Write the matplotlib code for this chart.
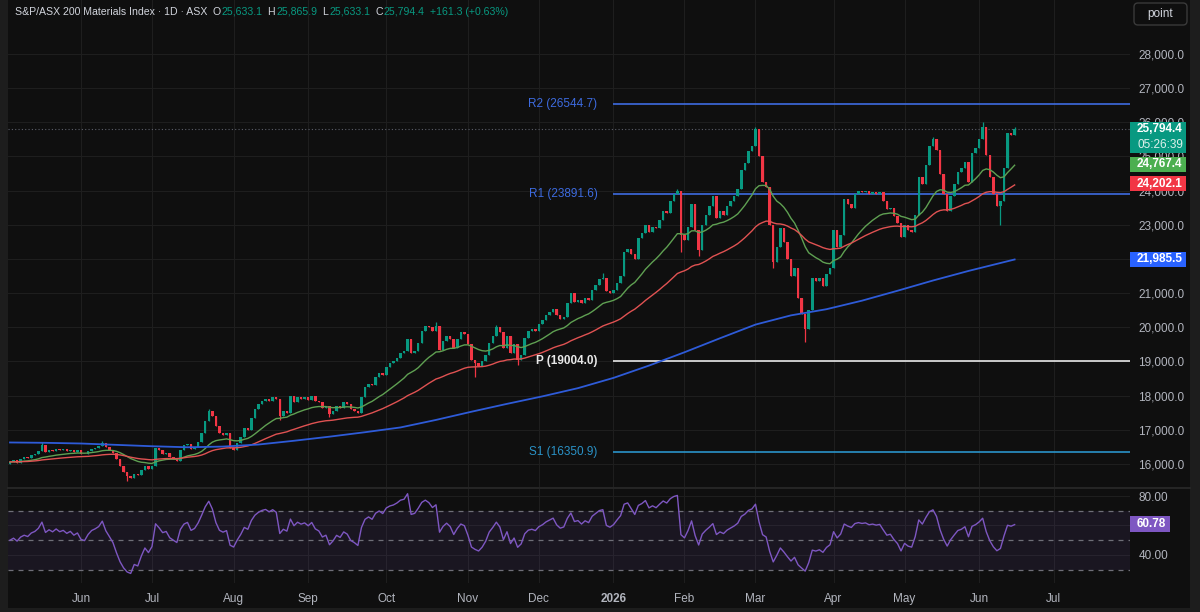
import numpy as np
import pandas as pd
import matplotlib
matplotlib.use('Agg')
import matplotlib.pyplot as plt
import matplotlib.transforms as mtransforms
from matplotlib.patches import Rectangle, FancyBboxPatch

# ---- data (daily closes, S&P/ASX 200 Materials)
closes = [
    16060, 16120, 16040, 16150, 16200, 16170, 16260, 16300, 16380, 16550,
    16350, 16420, 16380, 16450, 16400, 16430, 16380, 16420, 16360, 16400,
    16300, 16280, 16380, 16450, 16480, 16520, 16620, 16500, 16420, 16330,
    16150, 15950, 15780, 15650, 15600, 15720, 15680, 15820, 15950, 15850,
    15950, 16480, 16400, 16300, 16330, 16200, 16150, 16100, 16400, 16550,
    16600, 16450, 16500, 16650, 16900, 17250, 17550, 17400, 17100, 16900,
    16850, 16900, 16480, 16420, 16620, 16800, 17050, 17000, 17350, 17600,
    17750, 17850, 17900, 17850, 17950, 17900, 17400, 17550, 17500, 17980,
    17800, 17950, 17900, 17950, 17880, 18000, 17850, 17800, 17650, 17700,
    17450, 17550, 17700, 17650, 17800, 17750, 17600, 17550, 17480, 17950,
    18250, 18350, 18300, 18550, 18650, 18600, 18850, 18950, 19000, 19100,
    19250, 19300, 19650, 19250, 19300, 19550, 19900, 20050, 20000, 19900,
    20050, 19350, 19600, 19750, 19650, 19400, 19650, 19850, 19800, 19500,
    19050, 18950, 18880, 19000, 19200, 19550, 19750, 20000, 19850, 19400,
    19750, 19250, 19500, 19050, 19200, 19700, 19900, 19950, 19900, 20100,
    20200, 20350, 20450, 20550, 20350, 20250, 20300, 20700, 21000, 20750,
    20800, 20700, 20850, 20800, 21100, 21250, 21400, 21450, 21050, 21000,
    21100, 21300, 21500, 22200, 22300, 22150, 22000, 22600, 22750, 23000,
    22800, 22950, 22900, 23150, 23400, 23350, 23700, 23900, 24000, 22700,
    22550, 22950, 23600, 22850, 22250, 23000, 23300, 23550, 23850, 23200,
    23400, 23300, 23550, 23700, 23850, 24050, 24600, 24800, 25150, 25300,
    25800, 25000, 24250, 24100, 23000, 21900, 22350, 22900, 22500, 22000,
    21500, 21750, 20850, 20400, 19950, 20500, 21450, 21350, 21450, 21200,
    21550, 21750, 22850, 22350, 22700, 23750, 23600, 23500, 23900, 24000,
    23950, 24000, 23900, 23950, 23900, 23950, 23700, 23450, 23500, 23250,
    23050, 22650, 23000, 22850, 22800, 23300, 24400, 24200, 24750, 25300,
    25500, 25200, 24500, 23900, 23400, 23850, 24200, 24550, 24650, 24850,
    24250, 25100, 25250, 25500, 25850, 25050, 24400, 23900, 23550, 23700,
    24650, 25700, 25633.1, 25794.4,
]
first_open = 16000
# long wicks that stand out on the chart (bar index -> price)
highs_read = {9: 16650, 26: 16660, 56: 17620, 120: 20170, 137: 20060, 167: 21600,
              188: 24060, 210: 25850, 260: 25560, 274: 26000, 283: 25865.9}
lows_read = {33: 15490, 76: 17300, 90: 17380, 131: 18550, 143: 18900, 189: 22200,
             194: 22100, 215: 21750, 224: 19580, 279: 23000}

# 200-day average, read every 10 bars
ma200_idx = list(range(0, 280, 10)) + [283]
ma200_val = [16630, 16620, 16600, 16560, 16520, 16490, 16510, 16570, 16680, 16800,
             16930, 17070, 17290, 17530, 17760, 17980, 18220, 18520, 18880, 19270,
             19680, 20080, 20350, 20530, 20780, 21070, 21370, 21650, 21985.5]

pivot_names = ['R2', 'R1', 'P', 'S1']
pivot_vals = [26544.7, 23891.6, 19004.0, 16350.9]
pivot_cols = ['#3d6be0', '#3d6be0', '#e8e8e8', '#2a93c8']

holidays = ['2025-06-09', '2025-12-25', '2025-12-26', '2026-01-01', '2026-01-26',
            '2026-04-03', '2026-04-06', '2026-06-08']
price_ticks = np.arange(16000, 28001, 1000)
hidden_ticks = [22000]   # sits right under the 200-day label
last_o, last_h, last_l, last_c = 25633.1, 25865.9, 25633.1, 25794.4
ema_fast_last, ema_slow_last, rsi_last = 24767.4, 24202.1, 60.78
countdown = '05:26:39'

# ---- trading calendar
days = pd.bdate_range('2025-05-05', '2026-07-31')
days = days[~days.isin(pd.to_datetime(holidays))]
n = len(closes)
idx = np.arange(n)

month_pos, month_lab = [], []
for i in range(1, len(days)):
    if days[i].month != days[i - 1].month:
        month_pos.append(i)
        month_lab.append('2026' if days[i].month == 1 else days[i].strftime('%b'))

c = np.array(closes, dtype=float)
o = np.concatenate([[first_open], c[:-1]])
hi = np.maximum(o, c)
lo = np.minimum(o, c)
for k, v in highs_read.items():
    hi[k] = v
for k, v in lows_read.items():
    lo[k] = v

s = pd.Series(c)
ema20 = s.ewm(span=20, adjust=False).mean()
ema50 = s.ewm(span=50, adjust=False).mean()

# Wilder RSI(14), started from a neutral state so the first bars are not extreme
d = np.diff(c)
g = l = 80.0
rsi = [50.0]
for dd in d:
    g = (g * 13 + max(dd, 0)) / 14
    l = (l * 13 + max(-dd, 0)) / 14
    rsi.append(100 - 100 / (1 + g / l))
rsi = np.array(rsi)

# ---- figure
BG = '#0f0f0f'
GRID = '#1e1e1e'
TXT = '#b2b5be'
UP = '#089981'
DN = '#f23645'

W, H = 1200, 612
fig = plt.figure(figsize=(12, 6.12), dpi=100, facecolor='#1d1d1d')
fig.patches.append(Rectangle((8 / W, 4 / H), 1182 / W, 608 / H, transform=fig.transFigure,
                             facecolor=BG, edgecolor='none', zorder=-10))

ax = fig.add_axes([8 / W, (H - 487) / H, 1122 / W, 487 / H])
ar = fig.add_axes([8 / W, (H - 583) / H, 1122 / W, 94 / H], sharex=ax)

x0, x1 = -0.56, 315.5
for a in (ax, ar):
    a.set_facecolor(BG)
    for sp in a.spines.values():
        sp.set_visible(False)
    a.set_xlim(x0, x1)
    a.set_xticks(month_pos)
    a.grid(True, color=GRID, lw=0.8)
    a.set_axisbelow(True)
    a.yaxis.tick_right()
    a.tick_params(length=0, labelsize=8.5, labelcolor=TXT, pad=6)

ymin, ymax = 15327, 29579
ax.set_ylim(ymin, ymax)
ax.set_yticks(price_ticks)
ax.set_yticklabels(['' if v in hidden_ticks else f'{v:,.1f}' for v in price_ticks],
                   family='Liberation Sans')
ax.tick_params(axis='x', labelbottom=False)

# candles
cols = np.where(c >= o, UP, DN)
ax.vlines(idx, lo, hi, colors=cols, lw=0.9, zorder=3)
body = np.maximum(np.abs(c - o), 25)
ax.bar(idx, body, bottom=np.minimum(o, c), width=0.7, color=cols, lw=0, zorder=4)

ax.plot(idx, ema20, color='#5fa052', lw=1.0, zorder=5)
ax.plot(idx, ema50, color='#e05252', lw=1.0, zorder=5)
ax.plot(ma200_idx, ma200_val, color='#2e5bd8', lw=1.3, zorder=5)

# yearly pivots from first bar of 2026
p_start = int(np.argmax(days.year == 2026))
for name, v, col in zip(pivot_names, pivot_vals, pivot_cols):
    ax.hlines(v, p_start, x1, color=col, lw=1.2, zorder=2)
    ax.text(p_start - 4.5, v, f'{name} ({v:.1f})', ha='right', va='center', color=col,
            fontsize=8.5, family='Liberation Sans',
            fontweight='bold' if name == 'P' else 'normal')

ax.axhline(last_c, color='#5d606b', lw=0.8, ls=(0, (1, 2)), zorder=2)

# price scale labels
bt = mtransforms.blended_transform_factory(ax.transAxes, ax.transData)
upp = (ymax - ymin) / 487.0
bw = 56 / 1122
tx = 1.0 + 7 / 1122


def price_box(v, col, top_px=7.5, bot_px=7.5):
    ax.add_patch(Rectangle((1.0, v - bot_px * upp), bw, (top_px + bot_px) * upp,
                           transform=bt, facecolor=col, edgecolor='none',
                           clip_on=False, zorder=10))


price_box(last_c, UP, 7.5, 23.5)
ax.text(tx, last_c, f'{last_c:,.1f}', transform=bt, ha='left', va='center',
        color='white', fontsize=8.5, fontweight='bold', family='Liberation Sans',
        clip_on=False, zorder=11)
ax.text(tx, last_c - 16 * upp, countdown, transform=bt, ha='left', va='center',
        color='#dff1ec', fontsize=8.5, family='Liberation Sans', clip_on=False, zorder=11)
for v, col in [(ema_fast_last, '#4caf50'), (ema_slow_last, DN), (ma200_val[-1], '#2962ff')]:
    price_box(v, col)
    ax.text(tx, v, f'{v:,.1f}', transform=bt, ha='left', va='center',
            color='white', fontsize=8.5, fontweight='bold', family='Liberation Sans',
            clip_on=False, zorder=11)

# ---- RSI pane
ar.set_ylim(21.0, 84.75)
ar.set_yticks([40, 60, 80])
ar.set_yticklabels(['40.00', '', '80.00'], family='Liberation Sans')
ar.axhspan(30, 70, color='#7e57c2', alpha=0.1, lw=0)
for lvl in (70, 50, 30):
    ar.axhline(lvl, color='#6f6f78', lw=0.9, ls=(0, (4, 4)))
ar.plot(idx, rsi, color='#7e57c2', lw=1.0)
ar.set_xticklabels(month_lab, family='Liberation Sans')
for t in ar.get_xticklabels():
    if t.get_text() == '2026':
        t.set_fontweight('bold')
ar.tick_params(axis='x', pad=7)

bt2 = mtransforms.blended_transform_factory(ar.transAxes, ar.transData)
upp2 = (84.75 - 21.0) / 94.0
ar.add_patch(Rectangle((1.0, rsi_last - 8 * upp2), 40 / 1122, 16 * upp2, transform=bt2,
                       facecolor='#7e57c2', edgecolor='none', clip_on=False, zorder=10))
ar.text(tx, rsi_last, f'{rsi_last:.2f}', transform=bt2, ha='left', va='center',
        color='white', fontsize=8.5, fontweight='bold', family='Liberation Sans',
        clip_on=False, zorder=11)

# pane separator
fig.add_artist(plt.Line2D([8 / W, 1190 / W], [(H - 488) / H] * 2, color='#2a2a2a', lw=1.2))

# ---- header, laid out piece by piece
ty = 1 - 12 / H
head = [('S&P/ASX 200 Materials Index · 1D · ASX', '#d1d4dc', 5),
        ('O', '#d1d4dc', 1), (f'{last_o:,.1f}', UP, 5),
        ('H', '#d1d4dc', 1), (f'{last_h:,.1f}', UP, 5),
        ('L', '#d1d4dc', 1), (f'{last_l:,.1f}', UP, 5),
        ('C', '#d1d4dc', 1), (f'{last_c:,.1f}', UP, 5),
        (f'+{last_c - last_o:.1f} (+{(last_c - last_o) / last_o * 100:.2f}%)', UP, 0)]
rend = fig.canvas.get_renderer()
px = 15
for t, col, gap in head:
    tt = fig.text(px / W, ty, t, color=col, fontsize=7.6, family='Liberation Sans', va='center')
    px = tt.get_window_extent(renderer=rend).x1 + gap

fig.patches.append(FancyBboxPatch((1134, H - 25), 53, 22,
                                  boxstyle='round,pad=0,rounding_size=4',
                                  transform=mtransforms.IdentityTransform(),
                                  facecolor=BG, edgecolor='#3a3a3a', lw=1))
fig.text(1160.5 / W, 1 - 13.5 / H, 'point', color='#d1d4dc', fontsize=8.5,
         family='Liberation Sans', ha='center', va='center')

fig.savefig('out.png', dpi=100, facecolor=fig.get_facecolor())
